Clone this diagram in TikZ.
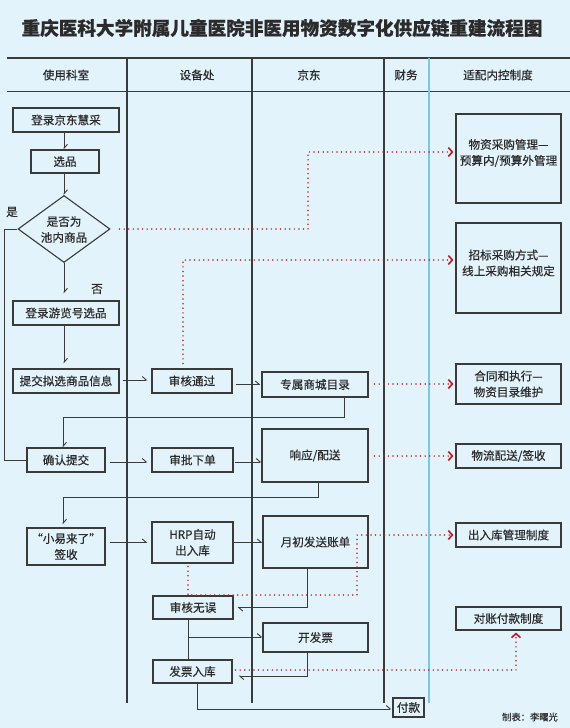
\documentclass[tikz,border=0pt]{standalone}
\usepackage{fontspec}
\setmainfont{Noto Sans CJK SC}[FakeBold=0.45]
\newfontfamily\titlefont{Noto Sans CJK SC}[FakeBold=1.6]
\usetikzlibrary{arrows.meta,shapes.geometric,calc}
\definecolor{bg}{HTML}{E3F3FB}
\definecolor{ink}{HTML}{2B2B2B}
\definecolor{lc}{HTML}{3A3A3A}
\definecolor{rd}{HTML}{B3262E}
\definecolor{bl}{HTML}{7DC6E6}
\begin{document}
\begin{tikzpicture}[x=1pt,y=-1pt,
  every node/.style={font=\fontsize{11.6}{16}\selectfont, text=ink, inner sep=0pt, align=center},
  bx/.style={draw=lc, line width=1.1pt},
  ln/.style={draw=lc, line width=1pt},
  arr/.style={ln, -{Straight Barb[harpoon,length=4pt,width=7pt,line width=0.9pt]}},
  reddot/.style={draw=rd, line width=1.7pt, line cap=round, dash pattern=on 0pt off 4.6pt,
     -{Straight Barb[length=4pt,width=9pt,line width=1.7pt]}},
  col/.style={draw=lc, line width=1.1pt}
]
\useasboundingbox (0,0) rectangle (570,728);
\fill[bg] (0,0) rectangle (570,728);

% title
\node[font=\fontsize{18.6}{20}\selectfont\bfseries, text=ink] (title) at (282,28) {重庆医科大学附属儿童医院非医用物资数字化供应链重建流程图};

% table frame
\draw[lc, line width=2.4pt] (7,58) -- (570,58);
\draw[lc, line width=1pt] (7,91) -- (570,91);
\draw[col] (127,58) -- (127,703);
\draw[col] (252,58) -- (252,703);
\draw[col] (384,58) -- (384,703);
\draw[bl, line width=1.3pt] (429,58) -- (429,703);

% headers
\node (h1) at (66,75) {使用科室};
\node (h2) at (197,75) {设备处};
\node (h3) at (309,75) {京东};
\node (h4) at (406,75) {财务};
\node (h5) at (498,75) {适配内控制度};

% main boxes
\node[bx, minimum width=106pt, minimum height=24pt] (n1) at (66,120) {登录京东慧采};
\node[bx, minimum width=68pt, minimum height=23pt] (n2) at (65,161.5) {选品};
\node[diamond, draw=lc, line width=1.1pt, minimum width=92pt, minimum height=67pt] (d) at (64,229) {};
\node (dt) at (64,229.5) {是否为\\池内商品};
\node[bx, minimum width=106pt, minimum height=24pt] (n3) at (66,313) {登录游览号选品};
\node[bx, minimum width=106pt, minimum height=24pt] (n4) at (66,381) {提交拟选商品信息};
\node[bx, minimum width=80pt, minimum height=24pt] (n5) at (192,381) {审核通过};
\node[bx, minimum width=106pt, minimum height=25pt] (n6) at (315,384.5) {专属商城目录};
\node[bx, minimum width=78pt, minimum height=24pt] (n7) at (66,460) {确认提交};
\node[bx, minimum width=81pt, minimum height=24pt] (n8) at (192.5,460) {审批下单};
\node[bx, minimum width=106pt, minimum height=53pt] (n9) at (315,455.5) {响应/配送};
\node[bx, minimum width=78pt, minimum height=37pt] (n10) at (66,546.5) {“小易来了”\\签收};
\node[bx, minimum width=81pt, minimum height=41pt] (n11) at (192.5,542.5) {HRP自动\\出入库};
\node[bx, minimum width=105pt, minimum height=52pt] (n12) at (315.5,542) {月初发送账单};
\node[bx, minimum width=80pt, minimum height=23pt] (n13) at (193,607.5) {审核无误};
\node[bx, minimum width=105pt, minimum height=29pt] (n14) at (315.5,637.5) {开发票};
\node[bx, minimum width=79pt, minimum height=23pt] (n15) at (192.5,671.5) {发票入库};
\node[bx, minimum width=31pt, minimum height=19pt] (n16) at (408.5,707.5) {付款};

% right boxes
\node[bx, minimum width=105pt, minimum height=89pt] (r1) at (508.5,158.5) {};
\node (r1t) at (508.5,153) {物资采购管理—\\预算内/预算外管理};
\node[bx, minimum width=105pt, minimum height=90pt] (r2) at (508.5,268) {};
\node (r2t) at (508.5,263) {招标采购方式—\\线上采购相关规定};
\node[bx, minimum width=105pt, minimum height=40pt] (r3) at (508.5,384) {合同和执行—\\物资目录维护};
\node[bx, minimum width=105pt, minimum height=24pt] (r4) at (508.5,456) {物流配送/签收};
\node[bx, minimum width=105pt, minimum height=24pt] (r5) at (508.5,535) {出入库管理制度};
\node[bx, minimum width=105pt, minimum height=23pt] (r6) at (508.5,618.5) {对账付款制度};

% labels
\node (yes) at (12,212) {是};
\node (no) at (97,289) {否};
\node[font=\fontsize{9.3}{11}\selectfont] (credit) at (530,717) {制表：李曙光};

% solid connectors
\draw[arr] (n1.south -| d) -- (n2.north -| d);
\draw[arr] (n2.south -| d) -- (d.north);
\coordinate (L) at (4,460);
\draw[ln] (d.west) -| (L) -- (n7.west);
\draw[arr, shorten >=7pt] (d.south) -- (n3.north -| d);
\draw[arr, shorten >=5pt] (n3.south -| d) -- (n4.north -| d);
\draw[arr, shorten <=3pt, shorten >=4pt] (n4.east |- 0,380) -- (n5.west |- 0,380);
\draw[arr, shorten <=3pt, shorten >=1pt] (n5.east |- n6) -- (n6.west);
\coordinate (c67) at (344,417);
\draw[arr] (n6.south -| c67) -- (c67) -| ([xshift=-3pt]n7.north);
\draw[arr, shorten <=4pt, shorten >=4pt] (n7.east |- 0,462) -- (n8.west |- 0,462);
\draw[arr, shorten <=1pt] (n8.east |- 0,462) -- (n9.west |- 0,462);
\coordinate (c910) at (318,497);
\draw[arr, shorten >=3pt] (n9.south -| c910) -- (c910) -| ([xshift=-3pt]n10.north);
\draw[arr, shorten <=4pt, shorten >=4pt] (n10.east |- n11) -- (n11.west);
\draw[arr] (n11.east) -- (n12.west |- n11);
\coordinate (c1213) at (307,607.5);
\draw[arr, shorten >=4pt] (n12.south -| c1213) -- (c1213) -- (n13.east);
\coordinate (c1315) at (188,637);
\draw[ln] (n13.south -| c1315) -- (n15.north -| c1315);
\draw[arr] (c1315) -- (n14.west |- c1315);
\coordinate (c1415) at (307,676);
\draw[arr, shorten >=6pt] (n14.south -| c1415) -- (c1415) -- (n15.east |- c1415);
\coordinate (c1516) at (197,709);
\draw[arr, shorten >=1pt] (n15.south -| c1516) -- (c1516) -- (n16.west |- c1516);

% red dotted connectors
\coordinate (k1) at (308,152);
\draw[reddot, shorten <=9pt, shorten >=2pt] (d.east) -| (k1) -- (k1 -| r1.west);
\coordinate (k2) at (183,260);
\draw[reddot, shorten <=5pt, shorten >=2pt] (n5.north -| k2) -- (k2) -- (k2 -| r2.west);
\draw[reddot, shorten <=6pt, shorten >=2pt] (n6.east |- r3) -- (r3.west);
\draw[reddot, shorten <=6pt, shorten >=2pt] (n9.east |- r4) -- (r4.west);
\coordinate (k3) at (188,595);
\coordinate (k4) at (357,595);
\draw[reddot, shorten <=3pt, shorten >=2pt] (n11.south -| k3) -- (k3) -- (k4) -- (k4 |- r5) -- (r5.west);
\coordinate (k5) at (516,670);
\draw[reddot, shorten <=3pt, shorten >=2pt] (n15.east |- k5) -- (k5) -- (k5 |- r6.south);
\end{tikzpicture}
\end{document}
